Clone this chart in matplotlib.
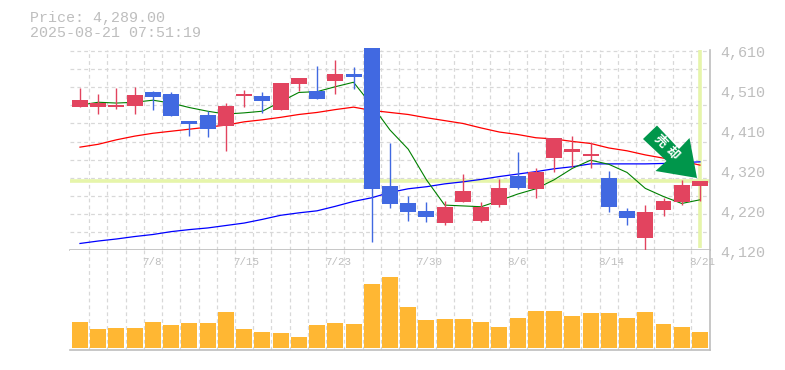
import numpy as np
import matplotlib
matplotlib.use('Agg')
import matplotlib.pyplot as plt
from matplotlib.patches import Polygon

mono = ['Liberation Mono', 'DejaVu Sans Mono']
gray = '#BEBEBE'
grid_c = '#D8D8D8'
up_c = '#E2445F'
down_c = '#4169E1'

opens = [4471, 4471, 4471, 4473, 4507, 4502, 4436, 4451, 4424, 4497, 4497, 4463,
         4527, 4510, 4534, 4551, 4615, 4277, 4235, 4216, 4186, 4238, 4191, 4230,
         4301, 4270, 4346, 4360, 4350, 4296, 4216, 4149, 4218, 4238, 4277]
highs = [4517, 4502, 4517, 4520, 4510, 4507, 4436, 4461, 4480, 4512, 4507, 4529,
         4542, 4571, 4586, 4569, 4615, 4382, 4252, 4238, 4240, 4306, 4238, 4294,
         4360, 4321, 4395, 4399, 4385, 4314, 4223, 4230, 4247, 4292, 4289]
lows = [4471, 4453, 4466, 4453, 4463, 4448, 4399, 4397, 4363, 4471, 4456, 4463,
        4510, 4490, 4502, 4515, 4140, 4223, 4191, 4189, 4181, 4238, 4189, 4225,
        4270, 4247, 4311, 4323, 4321, 4213, 4181, 4118, 4203, 4230, 4240]
closes = [4488, 4480, 4475, 4500, 4495, 4448, 4429, 4417, 4473, 4502, 4485, 4529,
          4542, 4490, 4551, 4544, 4270, 4233, 4213, 4201, 4225, 4265, 4225, 4272,
          4272, 4311, 4395, 4368, 4355, 4225, 4198, 4213, 4240, 4279, 4289]
ma_short = [4475, 4482, 4480, 4482, 4487, 4480, 4469, 4460, 4453, 4456, 4460, 4483,
            4506, 4508, 4520, 4531, 4475, 4414, 4367, 4292, 4230, 4228, 4226, 4241,
            4257, 4270, 4292, 4320, 4340, 4330, 4310, 4271, 4251, 4234, 4243]
ma_mid = [4372, 4379, 4390, 4399, 4406, 4411, 4416, 4421, 4426, 4434, 4439, 4445,
          4452, 4457, 4464, 4470, 4462, 4457, 4452, 4444, 4437, 4430, 4419, 4409,
          4403, 4395, 4392, 4386, 4381, 4370, 4363, 4353, 4345, 4338, 4328]
ma_long = [4136, 4142, 4147, 4153, 4158, 4165, 4170, 4174, 4180, 4186, 4195, 4205,
           4211, 4216, 4227, 4239, 4248, 4261, 4270, 4275, 4282, 4287, 4293, 4300,
           4306, 4312, 4319, 4324, 4331, 4331, 4331, 4331, 4332, 4334, 4336]
volume = [78, 57, 60, 60, 78, 69, 75, 75, 108, 57, 48, 45, 33, 69, 75, 72, 192, 213,
          123, 84, 87, 87, 78, 63, 90, 111, 111, 96, 105, 105, 90, 108, 72, 63, 48]
price_ticks = [4610, 4512, 4414, 4316, 4218, 4120]
price_labels = ['4,610', '4,510', '4,410', '4,320', '4,220', '4,120']
date_pos = [4, 9, 14, 19, 24, 29, 34]
date_labels = ['7/8', '7/15', '7/23', '7/30', '8/6', '8/14', '8/21']
last_price = 4289

W, H = 785, 370
fig = plt.figure(figsize=(W / 100, H / 100), dpi=100)
ax = fig.add_axes([70 / W, 120 / H, 640 / W, 200 / H])
vol = fig.add_axes([70 / W, 20 / H, 640 / W, 100 / H])

x = np.arange(len(closes))
for a in (ax, vol):
    a.set_xlim(-0.548, 34.55)
    a.set_xticks(x[:-1] + 0.5)
    a.tick_params(length=0, labelbottom=False, labelleft=False)
    a.grid(True, axis='x', color=grid_c, lw=0.9, linestyle=(0, (3, 2.5)))
    a.set_axisbelow(True)
    for s in ('top', 'left'):
        a.spines[s].set_visible(False)
    for s in ('bottom', 'right'):
        a.spines[s].set_color(gray)
        a.spines[s].set_linewidth(1.2)

# price panel
ax.set_ylim(4120, 4610)
ax.set_yticks(np.linspace(4120, 4610, 12)[1:] - 1.5)
ax.grid(True, axis='y', color=grid_c, lw=0.9, linestyle=(0, (3, 2.5)))
ax.axhline(last_price, color='#E6F5AA', lw=2.6, zorder=1.5)
ax.vlines(x[-1], 4125, 4610, color='#E6F5AA', lw=2.6, zorder=1.5)

ax.plot(x, ma_mid, color='#FF0000', lw=0.9, zorder=2)
ax.plot(x, ma_long, color='#0000FF', lw=0.9, zorder=2)
ax.plot(x, ma_short, color='#008000', lw=0.8, zorder=2)

for i in x:
    up = closes[i] >= opens[i]
    c = up_c if up else down_c
    ax.vlines(i, lows[i], highs[i], color=c, lw=1.0, zorder=3, clip_on=False)
    ax.bar(i, abs(closes[i] - opens[i]), bottom=min(opens[i], closes[i]), width=0.877,
           color=c, zorder=4, clip_on=False)

for v, lab in zip(price_ticks, price_labels):
    ax.annotate(lab, (1, v), xycoords=ax.get_yaxis_transform(), xytext=(7.5, -2.2),
                textcoords='offset points', family=mono, fontsize=10.8, color=gray,
                ha='left', va='center', annotation_clip=False)

# signal arrow, placed by pixel
arrow_px = [(657, 125.5), (643, 139), (666.5, 161), (655.5, 171),
            (697, 178), (689.5, 138), (679, 149)]
arrow_fig = [(px / W, 1 - py / H) for px, py in arrow_px]
fig.add_artist(Polygon(arrow_fig, closed=True, transform=fig.transFigure,
                       facecolor='#00964B', edgecolor='none', zorder=5))
for t, (px, py) in zip('売却', [(660, 141), (672, 153)]):
    fig.text(px / W, 1 - py / H, t, color='white', fontsize=9, fontweight='bold', rotation=-45,
             family=['Noto Sans CJK JP', 'DejaVu Sans'], ha='center', va='center', zorder=6)

# volume panel
vol.set_ylim(-6, 294)
vol.set_yticks([])
vol.bar(x, volume, width=0.877, color='#FFB733', zorder=3)
for p, lab in zip(date_pos, date_labels):
    vol.annotate(lab, (p - 0.5, 1), xycoords=vol.get_xaxis_transform(), xytext=(-1, -8.6),
                 textcoords='offset points', family=mono, fontsize=7.8, color=gray,
                 ha='left', va='center', zorder=4, annotation_clip=False)

fig.text(30 / W, 1 - 18 / H, 'Price: 4,289.00', family=mono, fontsize=10.8, color=gray, va='center')
fig.text(30 / W, 1 - 33 / H, '2025-08-21 07:51:19', family=mono, fontsize=10.8, color=gray, va='center')

fig.savefig('out.png', dpi=100, facecolor='white')
